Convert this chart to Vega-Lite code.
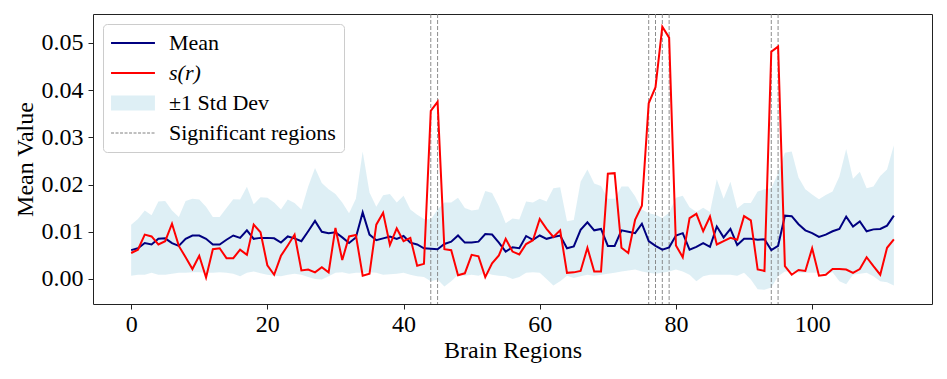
{
  "$schema": "https://vega.github.io/schema/vega-lite/v6.json",
  "width": 839,
  "height": 290,
  "autosize": {"type": "none"},
  "padding": {"left": 93, "top": 14, "right": 15, "bottom": 75},
  "background": "white",
  "config": {
    "view": {"stroke": "#222222", "strokeWidth": 1},
    "font": "Liberation Serif",
    "axis": {
      "labelFont": "Liberation Serif", "titleFont": "Liberation Serif",
      "labelFontSize": 24, "titleFontSize": 24, "titleFontWeight": "normal",
      "labelColor": "black", "titleColor": "black", "tickColor": "#222222",
      "tickSize": 5, "domain": false, "grid": false
    },
    "legend": {
      "labelFont": "Liberation Serif", "labelFontSize": 22, "labelColor": "black", "labelLimit": 0
    }
  },
  "datasets": {
    "d": [
      {"i":0,"mean":0.0061,"s":0.0055,"lo":0.0007,"hi":0.0115},
      {"i":1,"mean":0.0065,"s":0.0062,"lo":0.0009,"hi":0.0127},
      {"i":2,"mean":0.0076,"s":0.0094,"lo":0.0009,"hi":0.0145},
      {"i":3,"mean":0.0073,"s":0.0090,"lo":0.0013,"hi":0.0135},
      {"i":4,"mean":0.0085,"s":0.0073,"lo":0.0009,"hi":0.0164},
      {"i":5,"mean":0.0086,"s":0.0080,"lo":0.0009,"hi":0.0165},
      {"i":6,"mean":0.0076,"s":0.0117,"lo":0.0011,"hi":0.0145},
      {"i":7,"mean":0.0070,"s":0.0070,"lo":0.0013,"hi":0.0131},
      {"i":8,"mean":0.0085,"s":0.0046,"lo":0.0013,"hi":0.0165},
      {"i":9,"mean":0.0092,"s":0.0021,"lo":0.0014,"hi":0.0170},
      {"i":10,"mean":0.0092,"s":0.0049,"lo":0.0014,"hi":0.0168},
      {"i":11,"mean":0.0085,"s":0.0003,"lo":0.0013,"hi":0.0153},
      {"i":12,"mean":0.0073,"s":0.0063,"lo":0.0013,"hi":0.0131},
      {"i":13,"mean":0.0073,"s":0.0065,"lo":0.0014,"hi":0.0131},
      {"i":14,"mean":0.0083,"s":0.0044,"lo":0.0013,"hi":0.0150},
      {"i":15,"mean":0.0092,"s":0.0044,"lo":0.0011,"hi":0.0169},
      {"i":16,"mean":0.0087,"s":0.0062,"lo":0.0006,"hi":0.0168},
      {"i":17,"mean":0.0103,"s":0.0051,"lo":0.0013,"hi":0.0195},
      {"i":18,"mean":0.0085,"s":0.0115,"lo":0.0016,"hi":0.0158},
      {"i":19,"mean":0.0087,"s":0.0099,"lo":0.0012,"hi":0.0173},
      {"i":20,"mean":0.0087,"s":0.0029,"lo":0.0009,"hi":0.0172},
      {"i":21,"mean":0.0086,"s":0.0009,"lo":0.0007,"hi":0.0162},
      {"i":22,"mean":0.0077,"s":0.0049,"lo":0.0006,"hi":0.0147},
      {"i":23,"mean":0.0090,"s":0.0071,"lo":0.0009,"hi":0.0168},
      {"i":24,"mean":0.0086,"s":0.0094,"lo":0.0011,"hi":0.0161},
      {"i":25,"mean":0.0080,"s":0.0018,"lo":0.0009,"hi":0.0147},
      {"i":26,"mean":0.0101,"s":0.0020,"lo":0.0004,"hi":0.0196},
      {"i":27,"mean":0.0123,"s":0.0014,"lo":0.0000,"hi":0.0235},
      {"i":28,"mean":0.0100,"s":0.0025,"lo":-0.0001,"hi":0.0203},
      {"i":29,"mean":0.0097,"s":0.0014,"lo":0.0006,"hi":0.0190},
      {"i":30,"mean":0.0099,"s":0.0108,"lo":0.0013,"hi":0.0180},
      {"i":31,"mean":0.0088,"s":0.0040,"lo":0.0014,"hi":0.0162},
      {"i":32,"mean":0.0076,"s":0.0090,"lo":0.0011,"hi":0.0139},
      {"i":33,"mean":0.0088,"s":0.0093,"lo":0.0013,"hi":0.0170},
      {"i":34,"mean":0.0141,"s":0.0007,"lo":0.0013,"hi":0.0270},
      {"i":35,"mean":0.0094,"s":0.0011,"lo":0.0014,"hi":0.0183},
      {"i":36,"mean":0.0082,"s":0.0115,"lo":0.0013,"hi":0.0153},
      {"i":37,"mean":0.0086,"s":0.0140,"lo":0.0009,"hi":0.0177},
      {"i":38,"mean":0.0090,"s":0.0072,"lo":0.0010,"hi":0.0180},
      {"i":39,"mean":0.0085,"s":0.0107,"lo":0.0011,"hi":0.0162},
      {"i":40,"mean":0.0091,"s":0.0080,"lo":0.0013,"hi":0.0176},
      {"i":41,"mean":0.0077,"s":0.0087,"lo":0.0009,"hi":0.0147},
      {"i":42,"mean":0.0073,"s":0.0028,"lo":0.0006,"hi":0.0136},
      {"i":43,"mean":0.0065,"s":0.0032,"lo":0.0004,"hi":0.0127},
      {"i":44,"mean":0.0064,"s":0.0356,"lo":-0.0005,"hi":0.0126},
      {"i":45,"mean":0.0063,"s":0.0375,"lo":-0.0001,"hi":0.0147},
      {"i":46,"mean":0.0074,"s":0.0063,"lo":-0.0016,"hi":0.0162},
      {"i":47,"mean":0.0079,"s":0.0061,"lo":-0.0005,"hi":0.0162},
      {"i":48,"mean":0.0092,"s":0.0008,"lo":0.0009,"hi":0.0172},
      {"i":49,"mean":0.0077,"s":0.0012,"lo":0.0007,"hi":0.0150},
      {"i":50,"mean":0.0077,"s":0.0051,"lo":0.0009,"hi":0.0145},
      {"i":51,"mean":0.0079,"s":0.0048,"lo":0.0007,"hi":0.0147},
      {"i":52,"mean":0.0095,"s":0.0004,"lo":0.0013,"hi":0.0186},
      {"i":53,"mean":0.0094,"s":0.0033,"lo":0.0009,"hi":0.0182},
      {"i":54,"mean":0.0077,"s":0.0050,"lo":0.0007,"hi":0.0154},
      {"i":55,"mean":0.0058,"s":0.0085,"lo":0.0006,"hi":0.0118},
      {"i":56,"mean":0.0067,"s":0.0058,"lo":0.0000,"hi":0.0128},
      {"i":57,"mean":0.0065,"s":0.0052,"lo":0.0004,"hi":0.0126},
      {"i":58,"mean":0.0091,"s":0.0074,"lo":0.0013,"hi":0.0164},
      {"i":59,"mean":0.0083,"s":0.0082,"lo":0.0014,"hi":0.0162},
      {"i":60,"mean":0.0092,"s":0.0127,"lo":0.0013,"hi":0.0170},
      {"i":61,"mean":0.0085,"s":0.0106,"lo":0.0000,"hi":0.0164},
      {"i":62,"mean":0.0089,"s":0.0089,"lo":-0.0014,"hi":0.0192},
      {"i":63,"mean":0.0092,"s":0.0103,"lo":-0.0005,"hi":0.0194},
      {"i":64,"mean":0.0065,"s":0.0013,"lo":0.0007,"hi":0.0122},
      {"i":65,"mean":0.0069,"s":0.0014,"lo":0.0002,"hi":0.0125},
      {"i":66,"mean":0.0104,"s":0.0017,"lo":0.0006,"hi":0.0206},
      {"i":67,"mean":0.0120,"s":0.0066,"lo":0.0009,"hi":0.0232},
      {"i":68,"mean":0.0103,"s":0.0016,"lo":0.0007,"hi":0.0202},
      {"i":69,"mean":0.0106,"s":0.0016,"lo":0.0009,"hi":0.0197},
      {"i":70,"mean":0.0070,"s":0.0223,"lo":0.0011,"hi":0.0170},
      {"i":71,"mean":0.0070,"s":0.0224,"lo":0.0013,"hi":0.0170},
      {"i":72,"mean":0.0103,"s":0.0066,"lo":0.0016,"hi":0.0196},
      {"i":73,"mean":0.0100,"s":0.0055,"lo":0.0018,"hi":0.0196},
      {"i":74,"mean":0.0097,"s":0.0125,"lo":0.0020,"hi":0.0175},
      {"i":75,"mean":0.0117,"s":0.0155,"lo":0.0016,"hi":0.0147},
      {"i":76,"mean":0.0080,"s":0.0372,"lo":0.0013,"hi":0.0139},
      {"i":77,"mean":0.0070,"s":0.0406,"lo":0.0011,"hi":0.0136},
      {"i":78,"mean":0.0062,"s":0.0534,"lo":0.0013,"hi":0.0129},
      {"i":79,"mean":0.0067,"s":0.0511,"lo":0.0016,"hi":0.0140},
      {"i":80,"mean":0.0092,"s":0.0071,"lo":0.0020,"hi":0.0172},
      {"i":81,"mean":0.0097,"s":0.0046,"lo":0.0016,"hi":0.0176},
      {"i":82,"mean":0.0062,"s":0.0129,"lo":0.0009,"hi":0.0152},
      {"i":83,"mean":0.0068,"s":0.0138,"lo":-0.0005,"hi":0.0142},
      {"i":84,"mean":0.0076,"s":0.0101,"lo":0.0006,"hi":0.0151},
      {"i":85,"mean":0.0068,"s":0.0132,"lo":0.0009,"hi":0.0142},
      {"i":86,"mean":0.0111,"s":0.0073,"lo":0.0009,"hi":0.0211},
      {"i":87,"mean":0.0088,"s":0.0080,"lo":0.0009,"hi":0.0170},
      {"i":88,"mean":0.0106,"s":0.0087,"lo":0.0009,"hi":0.0206},
      {"i":89,"mean":0.0072,"s":0.0083,"lo":0.0007,"hi":0.0149},
      {"i":90,"mean":0.0085,"s":0.0133,"lo":0.0013,"hi":0.0161},
      {"i":91,"mean":0.0085,"s":0.0124,"lo":-0.0001,"hi":0.0161},
      {"i":92,"mean":0.0083,"s":0.0020,"lo":-0.0022,"hi":0.0185},
      {"i":93,"mean":0.0084,"s":0.0017,"lo":-0.0023,"hi":0.0190},
      {"i":94,"mean":0.0061,"s":0.0481,"lo":-0.0018,"hi":0.0192},
      {"i":95,"mean":0.0070,"s":0.0492,"lo":0.0006,"hi":0.0224},
      {"i":96,"mean":0.0134,"s":0.0027,"lo":0.0016,"hi":0.0267},
      {"i":97,"mean":0.0133,"s":0.0009,"lo":0.0016,"hi":0.0270},
      {"i":98,"mean":0.0116,"s":0.0019,"lo":0.0013,"hi":0.0215},
      {"i":99,"mean":0.0103,"s":0.0017,"lo":0.0013,"hi":0.0190},
      {"i":100,"mean":0.0097,"s":0.0065,"lo":0.0013,"hi":0.0179},
      {"i":101,"mean":0.0089,"s":0.0007,"lo":0.0013,"hi":0.0169},
      {"i":102,"mean":0.0094,"s":0.0009,"lo":0.0011,"hi":0.0178},
      {"i":103,"mean":0.0101,"s":0.0021,"lo":0.0014,"hi":0.0185},
      {"i":104,"mean":0.0106,"s":0.0021,"lo":-0.0005,"hi":0.0217},
      {"i":105,"mean":0.0132,"s":0.0020,"lo":-0.0011,"hi":0.0275},
      {"i":106,"mean":0.0111,"s":0.0013,"lo":0.0009,"hi":0.0212},
      {"i":107,"mean":0.0122,"s":0.0021,"lo":0.0011,"hi":0.0227},
      {"i":108,"mean":0.0101,"s":0.0046,"lo":0.0013,"hi":0.0192},
      {"i":109,"mean":0.0105,"s":0.0027,"lo":0.0006,"hi":0.0196},
      {"i":110,"mean":0.0106,"s":0.0009,"lo":-0.0005,"hi":0.0218},
      {"i":111,"mean":0.0113,"s":0.0066,"lo":-0.0007,"hi":0.0232},
      {"i":112,"mean":0.0134,"s":0.0084,"lo":-0.0014,"hi":0.0283}
    ],
    "sig": [{"x":44},{"x":45},{"x":76},{"x":77},{"x":78},{"x":79},{"x":94},{"x":95}]
  },
  "layer": [
    {
      "data": {"name": "d"},
      "mark": {"type": "area", "opacity": 0.4},
      "encoding": {
        "x": {"field": "i", "type": "quantitative",
          "scale": {"domain": [-5.6, 117.6], "nice": false, "zero": false},
          "axis": {"title": "Brain Regions", "values": [0, 20, 40, 60, 80, 100], "labelPadding": 3, "titlePadding": 2}},
        "y": {"field": "lo", "type": "quantitative",
          "scale": {"domain": [-0.0053, 0.0561], "nice": false, "zero": false},
          "axis": {"title": "Mean Value", "values": [0, 0.01, 0.02, 0.03, 0.04, 0.05], "format": ".2f", "labelPadding": 5, "titlePadding": 4}},
        "y2": {"field": "hi"},
        "color": {
          "datum": "±1 Std Dev",
          "type": "nominal",
          "scale": {
            "domain": ["Mean", "s(r)", "±1 Std Dev", "Significant regions"],
            "range": ["#000080", "#ff0000", "#add8e6", "#808080"]
          },
          "legend": {
            "title": null,
            "orient": "top-left",
            "offset": 10,
            "fillColor": "rgba(255,255,255,0.8)",
            "strokeColor": "#cccccc",
            "cornerRadius": 4,
            "padding": 8,
            "symbolSize": 324,
            "symbolOffset": 11,
            "labelOffset": 25,
            "labelLimit": 0,
            "rowPadding": 8,
            "symbolType": "stroke",
            "encoding": {
              "symbols": {
                "shape": {"value": {"expr": "datum.value === '±1 Std Dev' ? 'M-2.44,-0.83H2.44V0.83H-2.44Z' : 'M-2.44,0H2.44'"}},
                "fill": {"value": {"expr": "datum.value === '±1 Std Dev' ? '#add8e6' : 'transparent'"}},
                "fillOpacity": {"value": 0.4},
                "stroke": {"value": {"expr": "datum.value === 'Mean' ? '#000080' : datum.value === 's(r)' ? '#ff0000' : datum.value === 'Significant regions' ? '#808080' : 'transparent'"}},
                "strokeWidth": {"value": {"expr": "datum.value === 'Significant regions' ? 1 : datum.value === '±1 Std Dev' ? 0 : 2"}},
                "strokeDash": {"value": {"expr": "datum.value === 'Significant regions' ? [3, 1.5] : [1, 0]"}},
                "opacity": {"value": 1}
              },
              "labels": {
                "fontStyle": {"value": {"expr": "datum.value === 's(r)' ? 'italic' : 'normal'"}}
              }
            }
          }
        }
      }
    },
    {
      "data": {"name": "sig"},
      "mark": {"type": "rule", "strokeWidth": 1, "strokeDash": [4, 2], "opacity": 0.9},
      "encoding": {
        "x": {"field": "x", "type": "quantitative"},
        "color": {"datum": "Significant regions", "type": "nominal"}
      }
    },
    {
      "data": {"name": "d"},
      "mark": {"type": "line", "strokeWidth": 2},
      "encoding": {
        "x": {"field": "i", "type": "quantitative"},
        "y": {"field": "mean", "type": "quantitative"},
        "color": {"datum": "Mean", "type": "nominal"}
      }
    },
    {
      "data": {"name": "d"},
      "mark": {"type": "line", "strokeWidth": 2},
      "encoding": {
        "x": {"field": "i", "type": "quantitative"},
        "y": {"field": "s", "type": "quantitative"},
        "color": {"datum": "s(r)", "type": "nominal"}
      }
    }
  ]
}
